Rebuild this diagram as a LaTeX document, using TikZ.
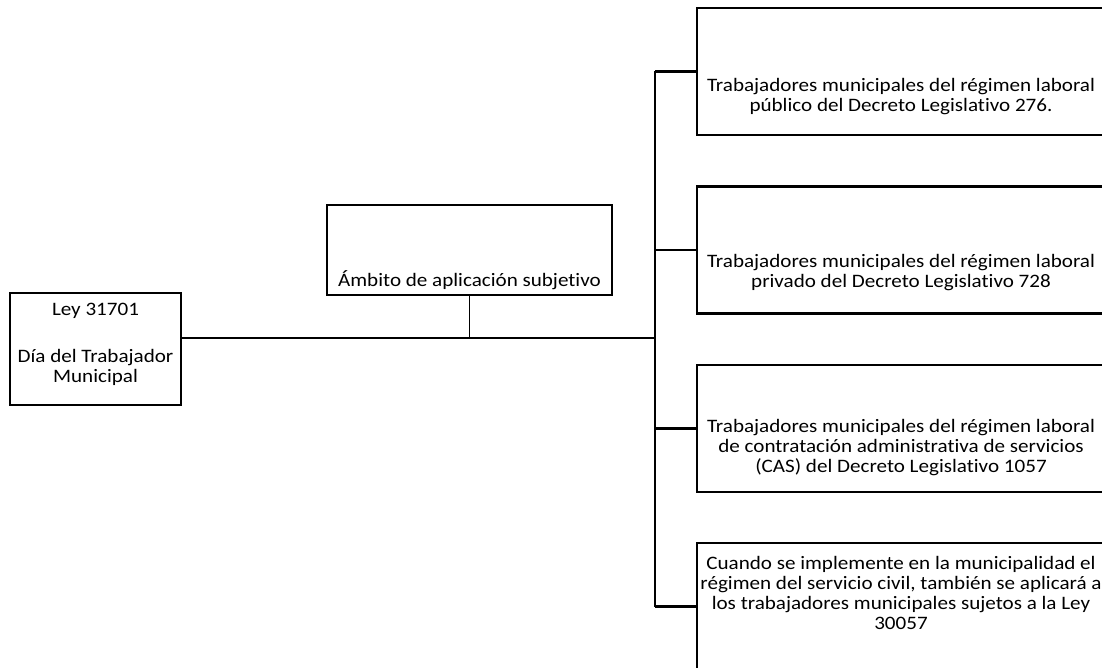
\documentclass[tikz,border=0pt]{standalone}
\usepackage{fontspec}
\setmainfont{Carlito}[FakeStretch=1.11, Ligatures={NoCommon,NoContextual,NoRare}]
\usetikzlibrary{positioning}

\begin{document}
\begin{tikzpicture}
		[
			x=1pt, y=-1pt,
			align=center,
			font=\fontsize{19}{20}\selectfont,
			box/.style={draw, line width=2.4pt, inner sep=0pt},
			txt/.style={draw=none, fill=none, inner sep=0pt},
			link/.style={line width=2.4pt}
		]
		\useasboundingbox (0,0) rectangle (1102,668);
		\clip (0,0) rectangle (1102,668);

		% boxes
		\node[box, minimum width=171, minimum height=112]	(L)  at (  95.5, 349.0 ) {};
		\node[box, minimum width=285, minimum height=90]	(M)  at ( 469.5, 250.0 ) {};
		\node[box, minimum width=408, minimum height=127]	(R1) at ( 901.0,  71.5 ) {};
		\node[box, minimum width=408, minimum height=127]	(R2) at ( 901.0, 250.0 ) {};
		\node[box, minimum width=408, minimum height=127]	(R3) at ( 901.0, 428.5 ) {};
		\node[box, minimum width=408, minimum height=127]	(R4) at ( 901.0, 606.5 ) {};

		% box texts
		\node[txt] (tL)  at (  95.5, 344.0 ) {Ley 31701\\[27pt]Día del Trabajador\\Municipal};
		\node[txt] (tM)  at ( 469.5, 280.0 ) {Ámbito de aplicación subjetivo};
		\node[txt] (tR1) at ( 901.0,  97.0 ) {Trabajadores municipales del régimen laboral\\público del Decreto Legislativo 276.};
		\node[txt] (tR2) at ( 901.0, 273.0 ) {Trabajadores municipales del régimen laboral\\privado del Decreto Legislativo 728};
		\node[txt] (tR3) at ( 901.0, 448.0 ) {Trabajadores municipales del régimen laboral\\de contratación administrativa de servicios\\(CAS) del Decreto Legislativo 1057};
		\node[txt] (tR4) at ( 901.0, 593.0 ) {Cuando se implemente en la municipalidad el\\régimen del servicio civil, también se aplicará a\\los trabajadores municipales sujetos a la Ley\\30057};

		% joint on the trunk
		\coordinate (J) at ( 655.0, 338.0 );

		% connectors
		\draw[link] (L.east |- J) -- (J);
		\draw[link, line width=1.8pt] (M.south) -- (M.south |- J);
		\draw[link] (J |- R1.west) -- (J |- R4.west);
		\foreach \to in {R1,R2,R3,R4}
		\draw[link] (J |- \to.west) -- (\to.west);

	\end{tikzpicture}
\end{document}
